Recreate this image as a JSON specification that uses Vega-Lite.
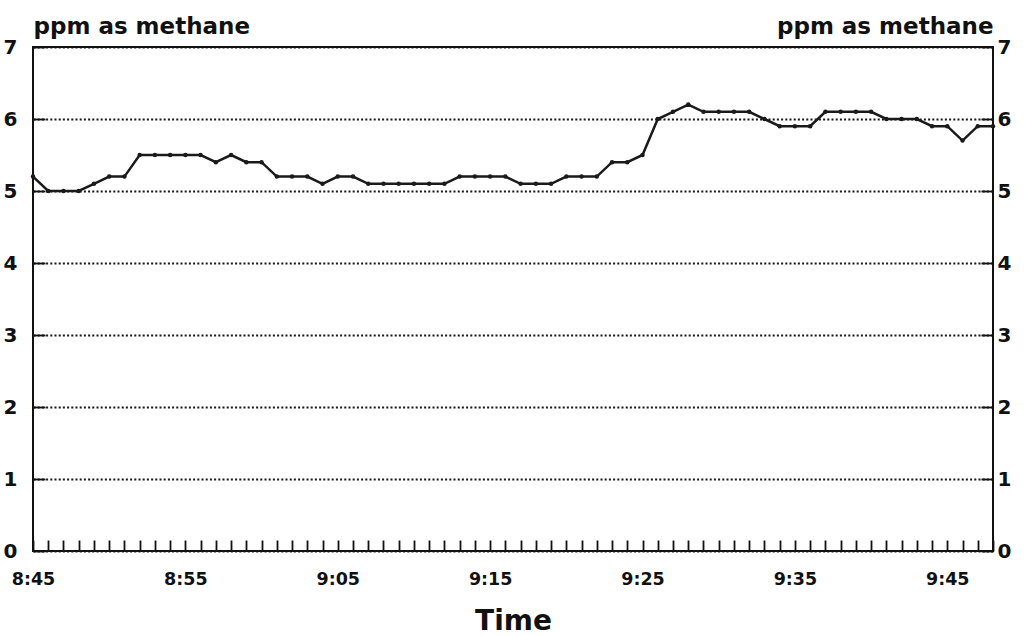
{
  "$schema": "https://vega.github.io/schema/vega-lite/v6.json",
  "width": 960,
  "height": 504,
  "autosize": {"type": "none"},
  "padding": {"left": 33, "top": 47, "right": 33, "bottom": 85},
  "background": "#ffffff",
  "config": {
    "font": "DejaVu Sans",
    "view": {"stroke": "#111111", "strokeWidth": 2},
    "axis": {
      "labelFont": "DejaVu Sans",
      "labelFontWeight": "bold",
      "labelColor": "#111111",
      "titleFont": "DejaVu Sans",
      "titleFontWeight": "bold",
      "titleColor": "#111111",
      "domain": false,
      "tickColor": "#111111",
      "tickWidth": 1.8
    }
  },
  "data": {
    "values": [
      {"time": "2000-01-01T08:45:00", "ppm": 5.2},
      {"time": "2000-01-01T08:46:00", "ppm": 5.0},
      {"time": "2000-01-01T08:47:00", "ppm": 5.0},
      {"time": "2000-01-01T08:48:00", "ppm": 5.0},
      {"time": "2000-01-01T08:49:00", "ppm": 5.1},
      {"time": "2000-01-01T08:50:00", "ppm": 5.2},
      {"time": "2000-01-01T08:51:00", "ppm": 5.2},
      {"time": "2000-01-01T08:52:00", "ppm": 5.5},
      {"time": "2000-01-01T08:53:00", "ppm": 5.5},
      {"time": "2000-01-01T08:54:00", "ppm": 5.5},
      {"time": "2000-01-01T08:55:00", "ppm": 5.5},
      {"time": "2000-01-01T08:56:00", "ppm": 5.5},
      {"time": "2000-01-01T08:57:00", "ppm": 5.4},
      {"time": "2000-01-01T08:58:00", "ppm": 5.5},
      {"time": "2000-01-01T08:59:00", "ppm": 5.4},
      {"time": "2000-01-01T09:00:00", "ppm": 5.4},
      {"time": "2000-01-01T09:01:00", "ppm": 5.2},
      {"time": "2000-01-01T09:02:00", "ppm": 5.2},
      {"time": "2000-01-01T09:03:00", "ppm": 5.2},
      {"time": "2000-01-01T09:04:00", "ppm": 5.1},
      {"time": "2000-01-01T09:05:00", "ppm": 5.2},
      {"time": "2000-01-01T09:06:00", "ppm": 5.2},
      {"time": "2000-01-01T09:07:00", "ppm": 5.1},
      {"time": "2000-01-01T09:08:00", "ppm": 5.1},
      {"time": "2000-01-01T09:09:00", "ppm": 5.1},
      {"time": "2000-01-01T09:10:00", "ppm": 5.1},
      {"time": "2000-01-01T09:11:00", "ppm": 5.1},
      {"time": "2000-01-01T09:12:00", "ppm": 5.1},
      {"time": "2000-01-01T09:13:00", "ppm": 5.2},
      {"time": "2000-01-01T09:14:00", "ppm": 5.2},
      {"time": "2000-01-01T09:15:00", "ppm": 5.2},
      {"time": "2000-01-01T09:16:00", "ppm": 5.2},
      {"time": "2000-01-01T09:17:00", "ppm": 5.1},
      {"time": "2000-01-01T09:18:00", "ppm": 5.1},
      {"time": "2000-01-01T09:19:00", "ppm": 5.1},
      {"time": "2000-01-01T09:20:00", "ppm": 5.2},
      {"time": "2000-01-01T09:21:00", "ppm": 5.2},
      {"time": "2000-01-01T09:22:00", "ppm": 5.2},
      {"time": "2000-01-01T09:23:00", "ppm": 5.4},
      {"time": "2000-01-01T09:24:00", "ppm": 5.4},
      {"time": "2000-01-01T09:25:00", "ppm": 5.5},
      {"time": "2000-01-01T09:26:00", "ppm": 6.0},
      {"time": "2000-01-01T09:27:00", "ppm": 6.1},
      {"time": "2000-01-01T09:28:00", "ppm": 6.2},
      {"time": "2000-01-01T09:29:00", "ppm": 6.1},
      {"time": "2000-01-01T09:30:00", "ppm": 6.1},
      {"time": "2000-01-01T09:31:00", "ppm": 6.1},
      {"time": "2000-01-01T09:32:00", "ppm": 6.1},
      {"time": "2000-01-01T09:33:00", "ppm": 6.0},
      {"time": "2000-01-01T09:34:00", "ppm": 5.9},
      {"time": "2000-01-01T09:35:00", "ppm": 5.9},
      {"time": "2000-01-01T09:36:00", "ppm": 5.9},
      {"time": "2000-01-01T09:37:00", "ppm": 6.1},
      {"time": "2000-01-01T09:38:00", "ppm": 6.1},
      {"time": "2000-01-01T09:39:00", "ppm": 6.1},
      {"time": "2000-01-01T09:40:00", "ppm": 6.1},
      {"time": "2000-01-01T09:41:00", "ppm": 6.0},
      {"time": "2000-01-01T09:42:00", "ppm": 6.0},
      {"time": "2000-01-01T09:43:00", "ppm": 6.0},
      {"time": "2000-01-01T09:44:00", "ppm": 5.9},
      {"time": "2000-01-01T09:45:00", "ppm": 5.9},
      {"time": "2000-01-01T09:46:00", "ppm": 5.7},
      {"time": "2000-01-01T09:47:00", "ppm": 5.9},
      {"time": "2000-01-01T09:48:00", "ppm": 5.9}
    ]
  },
  "encoding": {
    "x": {
      "field": "time",
      "type": "temporal",
      "scale": {"nice": false},
      "axis": {
        "orient": "bottom",
        "title": "Time",
        "titleFontSize": 28,
        "titleX": 480,
        "titleY": 78,
        "titleBaseline": "alphabetic",
        "titleAlign": "center",
        "format": "%-H:%M",
        "tickCount": 63,
        "tickSize": -11,
        "labelPadding": 30,
        "labelFontSize": 17.5,
        "labelOverlap": false,
        "labelFlush": false,
        "labelExpr": "indexof(['8:45', '8:55', '9:05', '9:15', '9:25', '9:35', '9:45'], datum.label) >= 0 ? datum.label : ''",
        "grid": false,
        "encode": {
          "labels": {"update": {"stroke": {"value": "#111111"}, "strokeWidth": {"value": 0.7}}},
          "title": {"update": {"stroke": {"value": "#111111"}, "strokeWidth": {"value": 0.8}}}
        }
      }
    }
  },
  "layer": [
    {
      "mark": {"type": "line", "color": "#1a1a1a", "strokeWidth": 2.5, "point": {"filled": true, "size": 20, "color": "#1a1a1a"}},
      "encoding": {
        "y": {
          "field": "ppm",
          "type": "quantitative",
          "scale": {"domain": [0, 7], "nice": false},
          "axis": {
            "orient": "left",
            "values": [0, 1, 2, 3, 4, 5, 6, 7],
            "title": "ppm as methane",
            "titleAngle": 0,
            "titleFontSize": 23,
            "titleX": 0,
            "titleY": -14,
            "titleAlign": "left",
            "titleBaseline": "alphabetic",
            "labelFontSize": 20,
            "labelPadding": 28,
            "tickSize": -12,
            "grid": true,
            "gridColor": "#151515",
            "gridWidth": 1.9,
            "gridDash": [2, 2.2],
            "encode": {
              "labels": {"update": {"stroke": {"value": "#111111"}, "strokeWidth": {"value": 0.8}}},
              "title": {"update": {"stroke": {"value": "#111111"}, "strokeWidth": {"value": 0.7}}}
            }
          }
        }
      }
    },
    {
      "mark": {"type": "line", "strokeOpacity": 0},
      "encoding": {
        "y": {
          "field": "ppm",
          "type": "quantitative",
          "axis": {
            "orient": "right",
            "values": [0, 1, 2, 3, 4, 5, 6, 7],
            "title": "ppm as methane",
            "titleAngle": 0,
            "titleFontSize": 23,
            "titleX": 0,
            "titleY": -14,
            "titleAlign": "right",
            "titleBaseline": "alphabetic",
            "labelFontSize": 20,
            "labelPadding": 16,
            "tickSize": -12,
            "grid": false,
            "encode": {
              "labels": {"update": {"stroke": {"value": "#111111"}, "strokeWidth": {"value": 0.8}}},
              "title": {"update": {"stroke": {"value": "#111111"}, "strokeWidth": {"value": 0.7}}}
            }
          }
        }
      }
    }
  ],
  "resolve": {"axis": {"y": "independent"}}
}
